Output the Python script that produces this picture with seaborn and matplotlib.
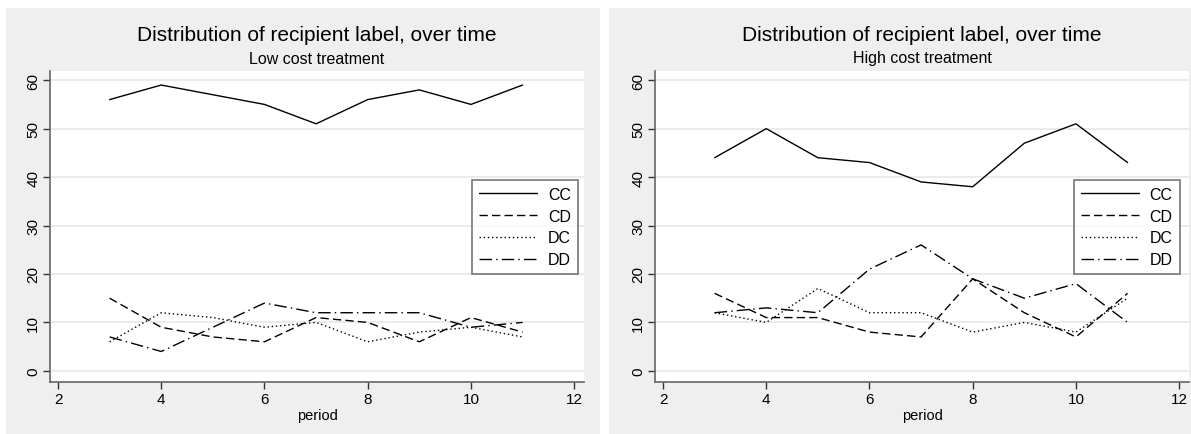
import numpy as np
import pandas as pd
import matplotlib
matplotlib.use('Agg')
import matplotlib.pyplot as plt
import seaborn as sns
from matplotlib.patches import Rectangle

sns.set_style('white')
plt.rcParams['font.family'] = ['Liberation Sans', 'DejaVu Sans']
plt.rcParams['text.color'] = 'black'
plt.rcParams['xtick.color'] = 'black'
plt.rcParams['ytick.color'] = 'black'
plt.rcParams['axes.labelcolor'] = 'black'

period = [3, 4, 5, 6, 7, 8, 9, 10, 11]
labels = ['CC', 'CD', 'DC', 'DD']

# low cost treatment
low_cc = [56, 59, 57, 55, 51, 56, 58, 55, 59]
low_cd = [15, 9, 7, 6, 11, 10, 6, 11, 8]
low_dc = [6, 12, 11, 9, 10, 6, 8, 9, 7]
low_dd = [7, 4, 9, 14, 12, 12, 12, 9, 10]

# high cost treatment
high_cc = [44, 50, 44, 43, 39, 38, 47, 51, 43]
high_cd = [16, 11, 11, 8, 7, 19, 12, 7, 16]
high_dc = [12, 10, 17, 12, 12, 8, 10, 8, 15]
high_dd = [12, 13, 12, 21, 26, 19, 15, 18, 10]

subtitles = ['Low cost treatment', 'High cost treatment']


def long_form(series):
    rows = []
    for lab, vals in zip(labels, series):
        for p, v in zip(period, vals):
            rows.append({'period': p, 'count': v, 'label': lab})
    return pd.DataFrame(rows)


data = [long_form([low_cc, low_cd, low_dc, low_dd]),
        long_form([high_cc, high_cd, high_dc, high_dd])]

W, H = 1191, 435
fig = plt.figure(figsize=(W / 100, H / 100), dpi=100)
fig.patch.set_facecolor('white')

dashes = {'CC': '', 'CD': (6, 3), 'DC': (1, 2), 'DD': (9, 3, 1, 3)}

# panel boxes (pixels): gray region and plot region
panels = [(6, 600, 50, 584, 0.989), (609, 1191, 655, 1189, 0.983)]

for i, (gx0, gx1, ax0, ax1, leg_x) in enumerate(panels):
    fig.patches.append(Rectangle((gx0 / W, 0), (gx1 - gx0) / W, (H - 9) / H,
                                 transform=fig.transFigure, facecolor='#efefef',
                                 edgecolor='none', zorder=-10))
    ax = fig.add_axes([ax0 / W, (H - 383) / H, (ax1 - ax0) / W, (383 - 72) / H])
    ax.set_zorder(1)
    ax.set_facecolor('white')
    sns.lineplot(data=data[i], x='period', y='count', hue='label', style='label',
                 palette=['black'] * 4, dashes=dashes, linewidth=1, ax=ax)
    ax.set_xlim(1.845, 12.19)
    ax.set_ylim(-2.3, 61.9)
    ax.set_xticks([2, 4, 6, 8, 10, 12])
    ax.set_yticks([0, 10, 20, 30, 40, 50, 60])
    ax.yaxis.grid(True, color='#e8e8e8', linewidth=1.2)
    ax.set_axisbelow(True)
    for s in ['top', 'right']:
        ax.spines[s].set_visible(False)
    for s in ['left', 'bottom']:
        ax.spines[s].set_color('#666666')
        ax.spines[s].set_linewidth(1.2)
    ax.tick_params(axis='both', direction='out', length=5, width=1, color='#333333',
                   labelsize=11, pad=2, bottom=True, left=True)
    plt.setp(ax.get_yticklabels(), rotation=90, va='center')
    ax.set_xlabel('period', fontsize=10.5, labelpad=2)
    ax.set_ylabel('')
    leg = ax.legend(loc='upper right', bbox_to_anchor=(leg_x, 0.65), fontsize=11.5,
                    frameon=True, fancybox=False, handlelength=3.6, borderpad=0.45,
                    labelspacing=0.42, handletextpad=0.7, borderaxespad=0)
    leg.get_frame().set_edgecolor('#555555')
    leg.get_frame().set_linewidth(1.2)
    cx = (ax0 + ax1) / 2 / W
    fig.text(cx, 1 - 36 / H, 'Distribution of recipient label, over time',
             ha='center', va='center', fontsize=15)
    fig.text(cx, 1 - 59 / H, subtitles[i], ha='center', va='center', fontsize=11.5)

fig.savefig('out.png', dpi=100)
